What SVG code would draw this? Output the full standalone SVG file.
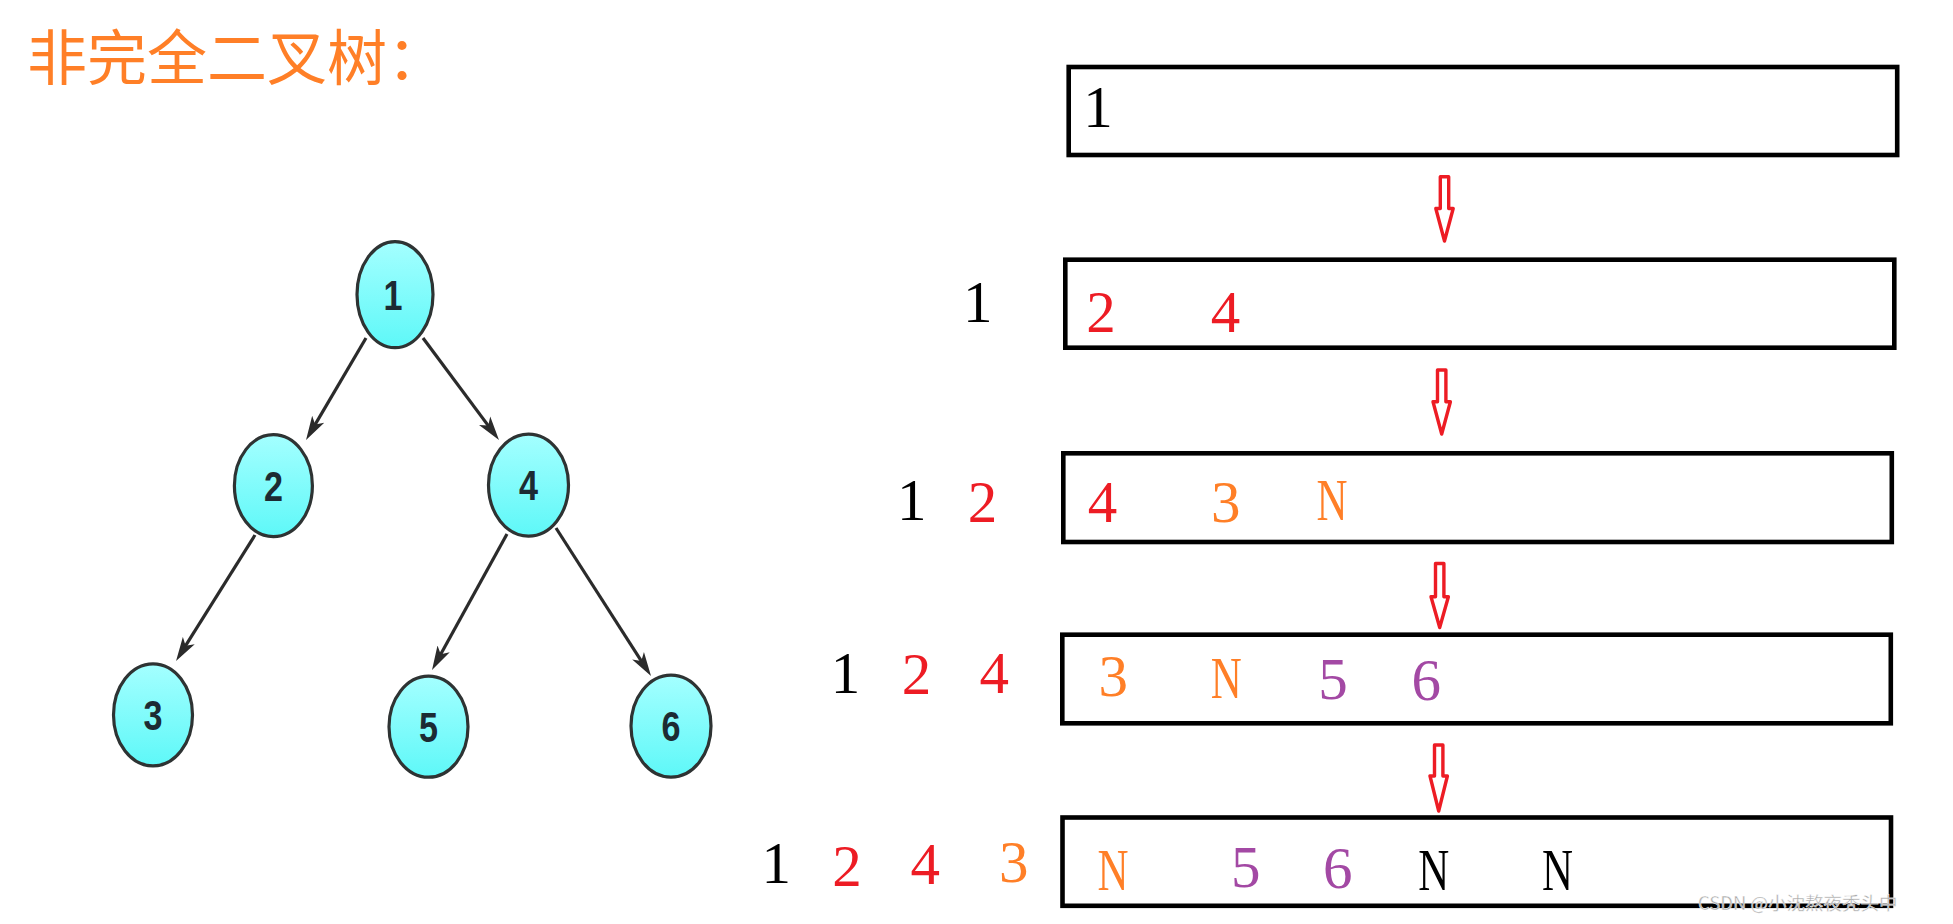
<svg xmlns="http://www.w3.org/2000/svg" width="1953" height="924" viewBox="0 0 1953 924">
<defs>
<linearGradient id="cy" x1="0" y1="0" x2="0" y2="1">
<stop offset="0" stop-color="#a4ffff"/>
<stop offset="1" stop-color="#5ef8f8"/>
</linearGradient>
<marker id="ah" markerUnits="userSpaceOnUse" markerWidth="26" markerHeight="16" refX="16" refY="8" orient="auto">
<path d="M0,1 L24,8 L0,15 L6,8 Z" fill="#2b2b2b"/>
</marker>
<style>
.node ellipse{fill:url(#cy);stroke:#2e3333;stroke-width:3.2}
.node text{font-family:"Liberation Sans",Arial,sans-serif;font-weight:bold;font-size:42px;fill:#1c2b33;text-anchor:middle}
.edge{stroke:#2b2b2b;stroke-width:3.2;fill:none;marker-end:url(#ah)}
.box{fill:none;stroke:#000;stroke-width:4.6}
.flow{fill:none;stroke:#ed1c24;stroke-width:3.4;stroke-linejoin:round}
.q{font-family:"Liberation Serif","Times New Roman",serif;font-size:59px;text-anchor:middle}
.k{fill:#000}.r{fill:#ed1c24}.o{fill:#ff7f27}.p{fill:#a349a4}
</style>
</defs>
<rect width="1953" height="924" fill="#fff"/>
<text x="27" y="80" font-family="'Noto Sans CJK SC',sans-serif" font-size="60" fill="#ff7f27">非完全二叉树：</text>

<g id="edges">
<line class="edge" x1="366" y1="338" x2="310.1" y2="433.1"/>
<line class="edge" x1="423" y1="338" x2="494.2" y2="433.6"/>
<line class="edge" x1="255" y1="535" x2="180.3" y2="654.2"/>
<line class="edge" x1="507" y1="534" x2="435.9" y2="663"/>
<line class="edge" x1="556" y1="528" x2="646.7" y2="669.3"/>
</g>

<g id="n1" class="node"><ellipse cx="395" cy="294.6" rx="38" ry="53"/><text x="393" y="310" textLength="19" lengthAdjust="spacingAndGlyphs">1</text></g>
<g id="n2" class="node"><ellipse cx="273.4" cy="485.7" rx="39" ry="51"/><text x="273.4" y="501" textLength="19" lengthAdjust="spacingAndGlyphs">2</text></g>
<g id="n4" class="node"><ellipse cx="528.5" cy="485.1" rx="40" ry="51"/><text x="528.5" y="500" textLength="19" lengthAdjust="spacingAndGlyphs">4</text></g>
<g id="n3" class="node"><ellipse cx="153" cy="714.9" rx="39.5" ry="51"/><text x="153" y="730" textLength="19" lengthAdjust="spacingAndGlyphs">3</text></g>
<g id="n5" class="node"><ellipse cx="428.5" cy="726.7" rx="39.5" ry="50.5"/><text x="428.5" y="742" textLength="19" lengthAdjust="spacingAndGlyphs">5</text></g>
<g id="n6" class="node"><ellipse cx="671" cy="726.1" rx="40" ry="51"/><text x="671" y="741" textLength="19" lengthAdjust="spacingAndGlyphs">6</text></g>

<g id="queue1"><rect class="box" x="1068.7" y="67" width="828.5" height="88"/>
<text class="q k" x="1098" y="126.7">1</text></g>
<g id="queue2"><rect class="box" x="1065.3" y="259.7" width="829" height="88"/>
<text class="q r" x="1101" y="331.7">2</text><text class="q r" x="1225.4" y="331.7">4</text></g>
<g id="queue3"><rect class="box" x="1063.3" y="453.3" width="828.5" height="88.7"/>
<text class="q r" x="1102.5" y="521.7">4</text><text class="q o" x="1225.8" y="521.7">3</text><text class="q o" x="1332" y="520" textLength="31" lengthAdjust="spacingAndGlyphs">N</text></g>
<g id="queue4"><rect class="box" x="1062.3" y="634.7" width="828.5" height="88.6"/>
<text class="q o" x="1113.2" y="695.7">3</text><text class="q o" x="1226.3" y="697.7" textLength="31" lengthAdjust="spacingAndGlyphs">N</text><text class="q p" x="1333" y="699.3">5</text><text class="q p" x="1426.3" y="700">6</text></g>
<g id="queue5"><rect class="box" x="1062.5" y="817.5" width="828.5" height="88.3"/>
<text class="q o" x="1113" y="890" textLength="31" lengthAdjust="spacingAndGlyphs">N</text><text class="q p" x="1245.7" y="887.3">5</text><text class="q p" x="1337.8" y="888.3">6</text><text class="q k" x="1433.7" y="890" textLength="31" lengthAdjust="spacingAndGlyphs">N</text><text class="q k" x="1557.5" y="890" textLength="31" lengthAdjust="spacingAndGlyphs">N</text></g>

<g id="out2"><text class="q k" x="977.7" y="322">1</text></g>
<g id="out3"><text class="q k" x="911.7" y="520">1</text><text class="q r" x="982.5" y="521.7">2</text></g>
<g id="out4"><text class="q k" x="845.5" y="693">1</text><text class="q r" x="916.5" y="694">2</text><text class="q r" x="994.2" y="693.3">4</text></g>
<g id="out5"><text class="q k" x="776.3" y="883.3">1</text><text class="q r" x="847" y="885.7">2</text><text class="q r" x="925.3" y="884">4</text><text class="q o" x="1013.8" y="882.3">3</text></g>

<g id="flows">
<path class="flow" d="M1440.3,176.7 H1448.7 V208.5 H1453.2 L1444.5,241 L1435.8,208.5 H1440.3 Z"/>
<path class="flow" d="M1437.5,370 H1445.9 V401.7 H1450.4 L1441.7,434 L1433,401.7 H1437.5 Z"/>
<path class="flow" d="M1435.5,563.5 H1443.9 V596.7 H1448.4 L1439.7,627.5 L1431,596.7 H1435.5 Z"/>
<path class="flow" d="M1434.5,745 H1442.9 V776 H1447.4 L1438.7,811 L1430,776 H1434.5 Z"/>
</g>

<text x="1698" y="910" font-family="'Noto Sans CJK SC',sans-serif" font-size="18.5" fill="#a8a8a8" stroke="#ffffff" stroke-width="0.4">CSDN @小沈熬夜秃头中</text>
</svg>
